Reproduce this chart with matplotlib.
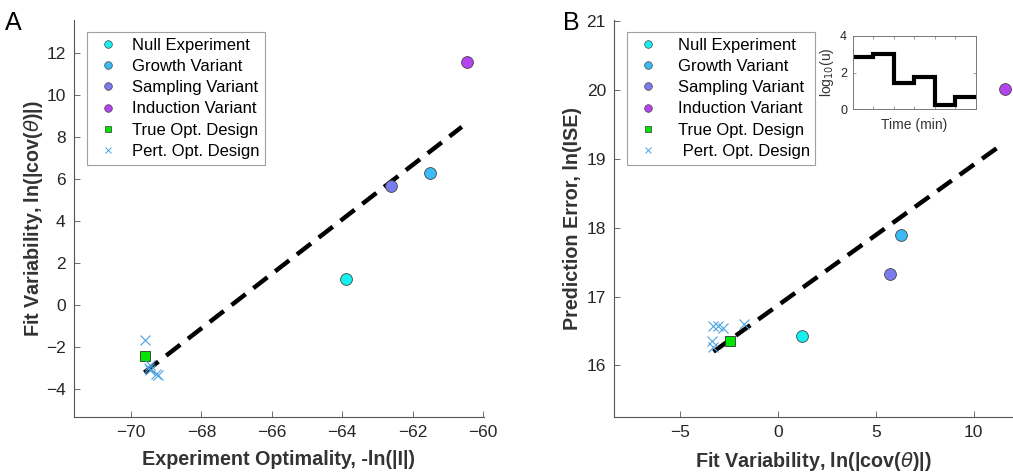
import matplotlib
matplotlib.use("Agg")
import matplotlib.pyplot as plt
import numpy as np

plt.rcParams['font.family'] = ['Liberation Sans', 'DejaVu Sans']
plt.rcParams['mathtext.fontset'] = 'dejavusans'

# ---------------- data ----------------
labels = ["Null Experiment", "Growth Variant", "Sampling Variant", "Induction Variant"]
colors = ["#14F0F0", "#3BBBF5", "#7B7BF0", "#B443F0"]

# Panel A: experiment optimality vs fit variability
optimality = [-63.9, -61.5, -62.6, -60.45]
fit_var = [1.25, 6.3, 5.7, 11.6]
true_opt_A = (-69.6, -2.4)
pert_opt_x = [-69.6, -69.45, -69.45, -69.3, -69.22, -69.5]
pert_fitvar = [-1.65, -2.85, -3.1, -3.25, -3.3, -3.0]
fitA_x = [-69.62, -60.6]
fitA_y = [-3.2, 8.5]

# Panel B: fit variability vs prediction error
pred_err = [16.43, 17.9, 17.33, 20.02]
true_opt_B = (-2.43, 16.35)
pert_prederr = [16.6, 16.54, 16.36, 16.57, 16.27, 16.57]
pert_fitvar_B = [-1.7, -2.77, -3.37, -3.03, -3.28, -3.28]
fitB_x = [-3.28, 11.48]
fitB_y = [16.2, 19.22]

# Inset: optimal input profile
inset_t = [0, 1, 2, 3, 4, 5, 6]
inset_u = [2.82, 3.02, 1.45, 1.77, 0.24, 0.67]

W, H = 1013, 472
fig = plt.figure(figsize=(W / 100, H / 100), dpi=100)

tick_c = "#262626"
cross_c = "#4DA3E0"
sq_c = "#00E600"
LBL = 14.2


def style_axes(ax):
    for s in ["top", "right"]:
        ax.spines[s].set_visible(False)
    for s in ["left", "bottom"]:
        ax.spines[s].set_color("#555555")
        ax.spines[s].set_linewidth(0.8)
    ax.tick_params(direction="in", length=4, width=0.6, colors="#555555",
                   labelcolor=tick_c, labelsize=12.5, pad=6)


def px_axes(l, r, t, b):
    return [l / W, 1 - b / H, (r - l) / W, (b - t) / H]


def make_legend(handles, x0, pad):
    leg = fig.legend(handles=handles, loc="upper left",
                     bbox_to_anchor=(x0 / W, 1 - 32 / H), bbox_transform=fig.transFigure,
                     fontsize=12, frameon=True, fancybox=False, borderaxespad=0,
                     labelspacing=0.37, handlelength=1.85, handletextpad=pad,
                     borderpad=0.35)
    leg.get_frame().set_edgecolor("#888888")
    leg.get_frame().set_linewidth(0.8)
    return leg


# -------- Panel A --------
axA = fig.add_axes(px_axes(74, 484, 20, 417))
style_axes(axA)
axA.plot(fitA_x, fitA_y, color="black", lw=3.2, ls=(0, (4.0, 2.2)), zorder=2)
for x, y, c in zip(optimality, fit_var, colors):
    axA.plot(x, y, "o", ms=8.5, mfc=c, mec="#444444", mew=0.6, zorder=3)
axA.plot(*true_opt_A, "s", ms=7, mfc=sq_c, mec="#333333", mew=0.6, zorder=3)
axA.plot(pert_opt_x, pert_fitvar, "x", ms=7, color=cross_c, mew=0.8, ls="none", zorder=3)
axA.set_xlim(-71.62, -59.97)
axA.set_ylim(-5.32, 13.59)
axA.set_xticks(np.arange(-70, -59, 2))
axA.set_yticks(np.arange(-4, 13, 2))
axA.set_xlabel("Experiment Optimality, -ln(|I|)", fontsize=LBL, fontweight="bold",
               color="#333333", labelpad=7)
axA.set_ylabel(r"Fit Variability, ln(|cov($\theta$)|)", fontsize=LBL, fontweight="bold",
               color="#333333", labelpad=1)

handles = []
for c, lab in zip(colors, labels):
    h, = axA.plot([], [], "o", ms=5.5, mfc=c, mec="#444444", mew=0.5, label=lab)
    handles.append(h)
hsq, = axA.plot([], [], "s", ms=5, mfc=sq_c, mec="#333333", mew=0.5, label="True Opt. Design")
hx, = axA.plot([], [], "x", ms=5, color=cross_c, mew=0.7, ls="none", label="Pert. Opt. Design")

make_legend(handles + [hsq, hx], 87, 0.5)
fig.text(5 / W, 1 - 30 / H, "A", fontsize=18, color="black")

# -------- Panel B --------
axB = fig.add_axes(px_axes(614.3, 1013, 20, 417))
style_axes(axB)
axB.plot(fitB_x, fitB_y, color="black", lw=3.2, ls=(0, (4.0, 2.2)), zorder=2)
for x, y, c in zip(fit_var, pred_err, colors):
    axB.plot(x, y, "o", ms=8.5, mfc=c, mec="#444444", mew=0.6, zorder=3, clip_on=False)
axB.plot(*true_opt_B, "s", ms=7, mfc=sq_c, mec="#333333", mew=0.6, zorder=3)
axB.plot(pert_fitvar_B, pert_prederr, "x", ms=7, color=cross_c, mew=0.8, ls="none", zorder=3)
axB.set_xlim(-8.34, 12.0)
axB.set_ylim(15.25, 21.02)
axB.set_xticks([-5, 0, 5, 10])
axB.set_yticks(np.arange(16, 22, 1))
axB.set_xlabel(r"Fit Variability, ln(|cov($\theta$)|)", fontsize=LBL, fontweight="bold",
               color="#333333", labelpad=7)
axB.set_ylabel("Prediction Error, ln(ISE)", fontsize=LBL, fontweight="bold",
               color="#333333", labelpad=3)

hx2, = axB.plot([], [], "x", ms=5, color=cross_c, mew=0.7, ls="none", label=" Pert. Opt. Design")
make_legend(handles + [hsq, hx2], 626.7, 0.85)
fig.text(563 / W, 1 - 30 / H, "B", fontsize=18, color="black")

# -------- Inset --------
axI = fig.add_axes(px_axes(852.7, 975.7, 35.7, 109.3))
axI.stairs(inset_u, inset_t, color="black", lw=3, baseline=None)
axI.set_xlim(0, 6)
axI.set_ylim(0, 4)
axI.set_yticks([0, 2, 4])
axI.set_xticks([1, 2, 3, 4, 5])
axI.tick_params(direction="in", length=2, width=0.5, colors="#777777",
                labelcolor=tick_c, labelsize=9, top=True, right=True,
                labelbottom=False, pad=4)
for s in axI.spines.values():
    s.set_color("#777777")
    s.set_linewidth(0.7)
axI.set_xlabel("Time (min)", fontsize=10, color="#333333", labelpad=6)
axI.set_ylabel(r"log$_{10}$(u)", fontsize=10, color="#333333", labelpad=3)

fig.savefig("out.png", dpi=100)
